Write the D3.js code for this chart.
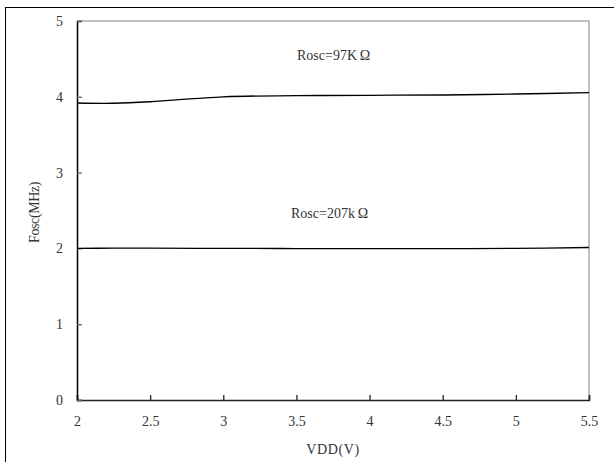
<!DOCTYPE html>
<html lang="en">
<head>
  <meta charset="UTF-8">
  <title>Fosc vs VDD</title>
  <script src="https://d3js.org/d3.v7.min.js"></script>
  <style>
    body { margin: 0; background: #fff; }
    svg { display: block; font-family: "Liberation Serif", "Times New Roman", serif; }
    .line { fill: none; stroke: #000; stroke-width: 1.3px; }
    .lbl { font-size: 14px; fill: #333; font-weight: normal; }
  </style>
</head>
<body>
  <svg width="614" height="462"></svg>

  <script>
    // data
    const vdd = [2, 2.25, 2.5, 3, 3.5, 4, 4.5, 5, 5.5];
    const fosc97k = [3.918, 3.915, 3.935, 4.0, 4.015, 4.02, 4.024, 4.037, 4.054];
    const fosc207k = [2.0, 2.003, 2.004, 2.0, 1.998, 1.996, 1.997, 2.0, 2.012];
    const xTicks = [2, 2.5, 3, 3.5, 4, 4.5, 5, 5.5];
    const yTicks = [0, 1, 2, 3, 4, 5];

    const plotL = 77, plotR = 589, plotT = 21, plotB = 400;

    const svg = d3.select('svg');

    // outer frame (runs off the right and bottom edges)
    svg.append('rect')
      .attr('x', 5.5).attr('y', 7.5)
      .attr('width', 640).attr('height', 480)
      .attr('fill', 'none').attr('stroke', '#000').attr('stroke-width', 1);

    const x = d3.scaleLinear().domain([2, 5.5]).range([plotL, plotR]);
    const y = d3.scaleLinear().domain([0, 5]).range([plotB, plotT]);

    // top and right plot borders in grey
    svg.append('path')
      .attr('d', `M${plotL},${plotT}H${plotR}V${plotB}`)
      .attr('fill', 'none').attr('stroke', '#aaa').attr('stroke-width', 1.5);

    const xAxis = svg.append('g')
      .attr('transform', `translate(0,${plotB})`)
      .call(d3.axisBottom(x).tickValues(xTicks).tickSize(-5).tickPadding(16)
        .tickFormat(d3.format('')));
    xAxis.select('.domain').attr('stroke', '#222').attr('stroke-width', 1.5);
    xAxis.selectAll('.tick line').attr('stroke', '#222').attr('stroke-width', 1.3);

    const yAxis = svg.append('g')
      .attr('transform', `translate(${plotL},0)`)
      .call(d3.axisLeft(y).tickValues(yTicks).tickSize(-5).tickPadding(14)
        .tickFormat(d3.format('d')));
    yAxis.select('.domain').attr('stroke', '#000').attr('stroke-width', 1.5);
    yAxis.selectAll('.tick line').attr('stroke', '#666').attr('stroke-width', 1.3);

    svg.selectAll('.tick text')
      .attr('class', 'lbl')
      .style('font-family', '"Liberation Serif", serif');

    const line = d3.line()
      .x((d, i) => x(vdd[i]))
      .y(d => y(d))
      .curve(d3.curveCatmullRom.alpha(0.5));

    svg.append('path').datum(fosc97k).attr('class', 'line').attr('d', line);
    svg.append('path').datum(fosc207k).attr('class', 'line').attr('d', line);

    // annotations
    svg.append('text').attr('class', 'lbl')
      .attr('x', 297).attr('y', 60).text('Rosc=97K\u2009\u03A9');
    svg.append('text').attr('class', 'lbl')
      .attr('x', 291).attr('y', 218).text('Rosc=207k\u2009\u03A9');

    // axis titles
    svg.append('text').attr('class', 'lbl')
      .attr('x', (plotL + plotR) / 2).attr('y', 454)
      .attr('text-anchor', 'middle')
      .style('letter-spacing', '0.6px')
      .text('VDD(V)');
    svg.append('text').attr('class', 'lbl')
      .attr('transform', `translate(39,${(plotT + plotB) / 2 + 2}) rotate(-90)`)
      .attr('text-anchor', 'middle')
      .style('letter-spacing', '-0.4px')
      .text('Fosc(MHz)');
  </script>
</body>
</html>
